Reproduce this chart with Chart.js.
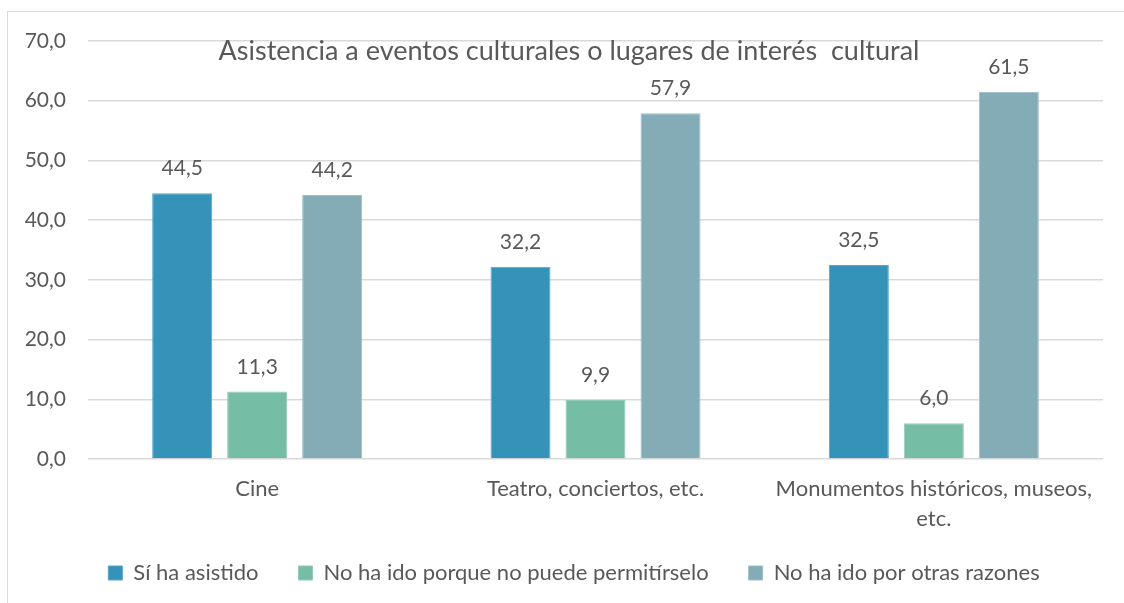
<!DOCTYPE html>
<html><head><meta charset="utf-8">
<script src="https://cdn.jsdelivr.net/npm/chart.js@4/dist/chart.umd.min.js"></script>
<style>
html,body{margin:0;padding:0;background:#fff;overflow:hidden;}
#wrap{position:relative;width:1124px;height:603px;}
#frame{position:absolute;left:7px;top:11px;width:1300px;height:800px;border:1px solid #d9d9d9;box-sizing:border-box;}
canvas{position:absolute;left:0;top:0;}
</style></head>
<body>
<div id="wrap"><div id="frame"></div><canvas id="c" width="1124" height="603"></canvas></div>
<script>
const titleText = 'Asistencia a eventos culturales o lugares de interés  cultural';
const categories = ['Cine', 'Teatro, conciertos, etc.', ['Monumentos históricos, museos,', 'etc.']];
const seriesNames = ['Sí ha asistido', 'No ha ido porque no puede permitírselo', 'No ha ido por otras razones'];
const siHaAsistido = [44.5, 32.2, 32.5];
const noPuedePermitirselo = [11.3, 9.9, 6.0];
const otrasRazones = [44.2, 57.9, 61.5];
const yTicks = [0, 10, 20, 30, 40, 50, 60, 70];
const colors = ['#3593ba', '#76bda6', '#84acb6'];
const edgeColors = ['#55a6c8', '#90cbb8', '#9dbec6'];

const FONT = 'Lato, "Open Sans", sans-serif';
const TEXT = '#595959';
const fmt = v => Number(v).toFixed(1).replace('.', ',');

const labelsPlugin = {
  id: 'valueLabels',
  afterDatasetsDraw(chart) {
    const ctx = chart.ctx;
    ctx.save();
    ctx.font = '21px ' + FONT;
    ctx.fillStyle = TEXT;
    ctx.textAlign = 'center';
    ctx.textBaseline = 'alphabetic';
    chart.data.datasets.forEach((ds, i) => {
      chart.getDatasetMeta(i).data.forEach((el, j) => {
        ctx.fillText(fmt(ds.data[j]), el.x, el.y - 18);
      });
    });
    ctx.restore();
  }
};
const titlePlugin = {
  id: 'innerTitle',
  afterDraw(chart) {
    const ctx = chart.ctx;
    ctx.save();
    ctx.font = '27px ' + FONT;
    ctx.fillStyle = TEXT;
    ctx.textAlign = 'center';
    ctx.textBaseline = 'alphabetic';
    ctx.fillText(titleText, 569, 60);
    ctx.restore();
  }
};
// let axis labels extend outside their boxes instead of being clipped
const unclipPlugin = {
  id: 'unclipAxes',
  afterLayout(chart) {
    chart.scales.x.bottom = chart.height;
    chart.scales.y.left = 0;
  }
};

new Chart(document.getElementById('c'), {
  type: 'bar',
  data: {
    labels: categories,
    datasets: [0, 1, 2].map(i => ({
      label: seriesNames[i],
      data: [siHaAsistido, noPuedePermitirselo, otrasRazones][i],
      backgroundColor: colors[i],
      borderColor: edgeColors[i],
      borderWidth: 1,
      categoryPercentage: 0.665,
      barPercentage: 0.8
    }))
  },
  options: {
    responsive: false,
    animation: false,
    layout: {padding: {left: 45, right: 21, top: 41, bottom: 9}},
    plugins: {
      title: {display: false},
      tooltip: {enabled: false},
      legend: {
        position: 'bottom',
        labels: {font: {family: FONT, size: 22}, color: TEXT, boxWidth: 14, boxHeight: 14, padding: 40}
      }
    },
    scales: {
      x: {
        grid: {display: false, drawTicks: false},
        border: {display: false},
        ticks: {font: {family: FONT, size: 22, lineHeight: 1.364}, color: TEXT, padding: 15, maxRotation: 0, autoSkip: false},
        afterFit(s) { s.height = 63; }
      },
      y: {
        min: 0, max: 70,
        afterBuildTicks(s) { s.ticks = yTicks.map(v => ({value: v})); },
        grid: {color: '#d9d9d9', lineWidth: 1.5, drawTicks: false},
        border: {display: false},
        ticks: {font: {family: FONT, size: 21}, color: TEXT, padding: 22, callback: v => fmt(v)},
        afterFit(s) { s.width = 43; }
      }
    }
  },
  plugins: [labelsPlugin, titlePlugin, unclipPlugin]
});
</script>
</body></html>
